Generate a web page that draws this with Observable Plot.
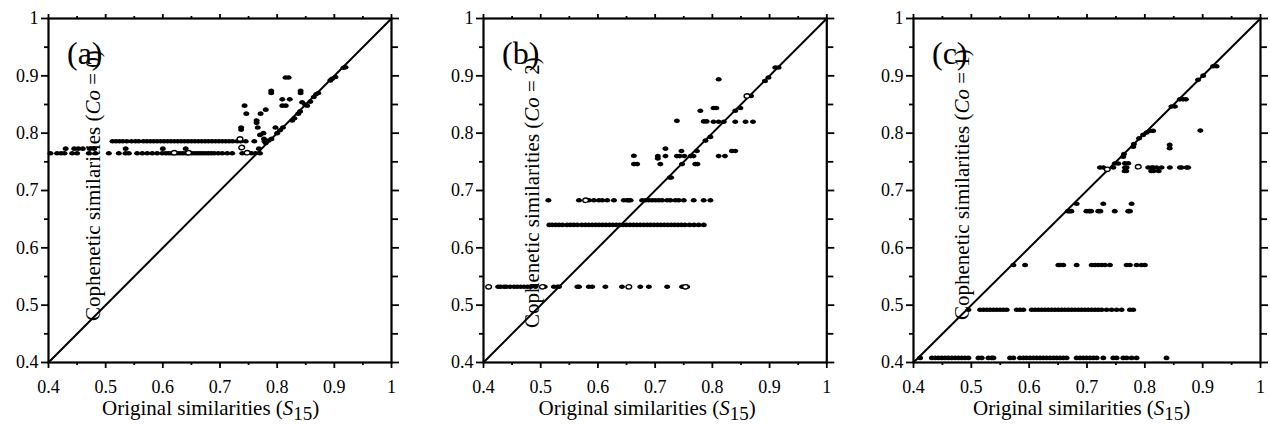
<!DOCTYPE html>
<html><head><meta charset="utf-8">
<script src="https://cdn.jsdelivr.net/npm/d3@7"></script>
<script src="https://cdn.jsdelivr.net/npm/@observablehq/plot@0.6"></script>
<style>
html,body{margin:0;padding:0;background:#fff;overflow:hidden}
#chart{position:relative;width:1270px;height:424px}
#chart svg{position:absolute;top:0;overflow:visible}
</style></head><body><div id="chart"></div>
<script>
// ---------- tick values ----------
const majorTicks = [0.4, 0.5, 0.6, 0.7, 0.8, 0.9, 1];
const minorTicks = [0.45, 0.55, 0.65, 0.75, 0.85, 0.95];
const diagonal = [0.4, 1];
const panelLabels = ["(a)", "(b)", "(c)"];
const coValues = ["0", "2", "1"];
const xTitleMain = "Original similarities (";
const yTitleMain = "Cophenetic similarities (";

// ---------- panel (a) ----------
const A_y765 = 0.765;
const A_row765 = [0.4035, 0.415, 0.422, 0.428, 0.4414, 0.45, 0.4705, 0.482, 0.5055, 0.523, 0.5347, 0.5405, 0.555, 0.564, 0.5727, 0.5814, 0.59, 0.599, 0.605, 0.61, 0.615, 0.62, 0.625, 0.63, 0.635, 0.64, 0.645, 0.65, 0.655, 0.66, 0.665, 0.67, 0.675, 0.68, 0.685, 0.69, 0.697, 0.704, 0.7126, 0.7213, 0.739, 0.755, 0.762, 0.77];
const A_y773 = 0.773;
const A_row773 = [0.43, 0.445, 0.452, 0.46, 0.472, 0.48, 0.535, 0.6, 0.64, 0.768];
const A_y786 = 0.786;
const A_row786 = [0.512, 0.518, 0.524, 0.53, 0.537, 0.545, 0.552, 0.558, 0.566, 0.572, 0.578, 0.584, 0.59, 0.596, 0.602, 0.608, 0.614, 0.62, 0.626, 0.632, 0.638, 0.644, 0.65, 0.656, 0.662, 0.668, 0.674, 0.68, 0.686, 0.692, 0.698, 0.704, 0.71, 0.716, 0.722, 0.73, 0.736, 0.745, 0.76, 0.778];
const A_scatterX = [0.8146, 0.82, 0.7896, 0.7896, 0.841, 0.841, 0.809, 0.822, 0.809, 0.815, 0.743, 0.78, 0.771, 0.746, 0.8437, 0.764, 0.764, 0.766, 0.737, 0.737, 0.797, 0.777, 0.77, 0.776, 0.78, 0.785, 0.79, 0.8, 0.805, 0.81, 0.8263, 0.83, 0.837, 0.84, 0.8525, 0.849, 0.858, 0.864, 0.868, 0.872, 0.893, 0.896, 0.902, 0.9196, 0.916];
const A_scatterY = [0.897, 0.897, 0.870, 0.874, 0.870, 0.874, 0.859, 0.859, 0.848, 0.848, 0.848, 0.841, 0.834, 0.834, 0.854, 0.822, 0.818, 0.810, 0.810, 0.806, 0.810, 0.790, 0.797, 0.800, 0.783, 0.787, 0.790, 0.800, 0.805, 0.810, 0.822, 0.826, 0.834, 0.838, 0.848, 0.850, 0.855, 0.863, 0.868, 0.870, 0.892, 0.895, 0.898, 0.915, 0.914];
const A_openX = [0.62, 0.645, 0.7476, 0.738, 0.735];
const A_openY = [0.766, 0.766, 0.766, 0.775, 0.79];

// ---------- panel (b) ----------
const B_y532 = 0.532;
const B_row532 = [0.4256, 0.43, 0.436, 0.44, 0.4465, 0.4535, 0.459, 0.465, 0.471, 0.477, 0.4826, 0.491, 0.507, 0.523, 0.529, 0.532, 0.564, 0.567, 0.584, 0.590, 0.613, 0.642, 0.674, 0.689, 0.721, 0.747, 0.750, 0.756];
const B_y640 = 0.64;
const B_row640 = [0.515, 0.52, 0.526, 0.532, 0.538, 0.546, 0.552, 0.558, 0.564, 0.572, 0.578, 0.584, 0.59, 0.596, 0.602, 0.608, 0.614, 0.62, 0.626, 0.632, 0.638, 0.644, 0.65, 0.656, 0.662, 0.668, 0.674, 0.68, 0.686, 0.692, 0.698, 0.704, 0.71, 0.716, 0.722, 0.728, 0.734, 0.74, 0.746, 0.752, 0.76, 0.768, 0.776, 0.785];
const B_y683 = 0.683;
const B_row683 = [0.5134, 0.5669, 0.5843, 0.593, 0.6017, 0.6076, 0.6163, 0.628, 0.6453, 0.6512, 0.654, 0.657, 0.6773, 0.683, 0.689, 0.6948, 0.7006, 0.7064, 0.7122, 0.721, 0.7267, 0.7355, 0.7413, 0.75, 0.7674, 0.7849, 0.7965];
const B_scatterX = [0.6628, 0.663, 0.6686, 0.7047, 0.7047, 0.709, 0.718, 0.718, 0.7256, 0.728, 0.738, 0.738, 0.743, 0.746, 0.747, 0.751, 0.762, 0.767, 0.773, 0.77, 0.774, 0.779, 0.785, 0.79, 0.788, 0.7965, 0.811, 0.802, 0.807, 0.802, 0.811, 0.82, 0.811, 0.822, 0.834, 0.84, 0.84, 0.84, 0.849, 0.858, 0.871, 0.8675, 0.892, 0.898, 0.9157, 0.91];
const B_scatterY = [0.7605, 0.746, 0.746, 0.760, 0.756, 0.746, 0.773, 0.760, 0.7227, 0.7227, 0.8215, 0.760, 0.760, 0.769, 0.746, 0.760, 0.760, 0.760, 0.769, 0.746, 0.746, 0.839, 0.8205, 0.8205, 0.787, 0.7935, 0.894, 0.844, 0.844, 0.82, 0.82, 0.82, 0.76, 0.76, 0.769, 0.769, 0.82, 0.839, 0.844, 0.82, 0.82, 0.865, 0.891, 0.897, 0.9145, 0.9145];
const B_openX = [0.409, 0.503, 0.654, 0.753, 0.5785, 0.8605];
const B_openY = [0.532, 0.532, 0.532, 0.532, 0.683, 0.865];

// ---------- panel (c) ----------
const C_y408 = 0.408;
const C_row408 = [0.4115, 0.4317, 0.4374, 0.4432, 0.4489, 0.4547, 0.4604, 0.4662, 0.472, 0.4777, 0.4835, 0.4892, 0.495, 0.5123, 0.518, 0.5295, 0.5353, 0.5382, 0.567, 0.5727, 0.5842, 0.59, 0.5957, 0.6015, 0.6073, 0.613, 0.6188, 0.6245, 0.6303, 0.636, 0.6418, 0.6476, 0.6533, 0.659, 0.6648, 0.6821, 0.6879, 0.6936, 0.6994, 0.7051, 0.7109, 0.7167, 0.7282, 0.7454, 0.7512, 0.7627, 0.7685, 0.7771, 0.7857, 0.8375];
const C_y492 = 0.492;
const C_row492 = [0.495, 0.5151, 0.5209, 0.5267, 0.5324, 0.5382, 0.5439, 0.5497, 0.5554, 0.5612, 0.5785, 0.5842, 0.59, 0.6044, 0.6101, 0.6159, 0.6216, 0.6274, 0.6332, 0.6389, 0.6447, 0.6504, 0.6562, 0.6619, 0.6677, 0.6735, 0.6792, 0.685, 0.6907, 0.6965, 0.7022, 0.708, 0.7138, 0.7195, 0.7253, 0.7339, 0.7425, 0.7512, 0.7598, 0.7742, 0.78];
const C_y570 = 0.570;
const C_row570 = [0.5727, 0.5929, 0.6504, 0.6533, 0.659, 0.6821, 0.708, 0.7138, 0.7195, 0.7253, 0.731, 0.7397, 0.7685, 0.7742, 0.7857, 0.7943, 0.8001];
const C_y664 = 0.664;
const C_row664 = [0.667, 0.670, 0.673, 0.699, 0.704, 0.707, 0.7195, 0.723, 0.748, 0.7713, 0.7742];
const C_y677 = 0.677;
const C_row677 = [0.6821, 0.7282, 0.7771];
const C_y740 = 0.740;
const C_row740 = [0.7224, 0.7282, 0.7454, 0.7656, 0.7685, 0.8059, 0.8117, 0.8146, 0.8203, 0.8289, 0.8433, 0.8606, 0.8635, 0.8721, 0.875];
const C_scatterX = [0.765, 0.768, 0.811, 0.815, 0.824, 0.78, 0.781, 0.79, 0.797, 0.803, 0.809, 0.8145, 0.843, 0.843, 0.846, 0.852, 0.8606, 0.866, 0.871, 0.892, 0.9009, 0.918, 0.924, 0.896, 0.7627, 0.748, 0.754, 0.7656, 0.7714, 0.7639];
const C_scatterY = [0.734, 0.734, 0.734, 0.734, 0.734, 0.7765, 0.781, 0.791, 0.797, 0.801, 0.804, 0.804, 0.7795, 0.7736, 0.8466, 0.8466, 0.859, 0.859, 0.859, 0.893, 0.9003, 0.9166, 0.9166, 0.8045, 0.759, 0.747, 0.747, 0.7474, 0.7474, 0.7637];
const C_openX = [0.735, 0.7886];
const C_openY = [0.737, 0.7415];

// ---------- build tables ----------
function rowsToPoints(rows) {
  return rows.flatMap(([y, xs]) => xs.map(x => ({x, y})));
}
function pairs(xs, ys) { return xs.map((x, i) => ({x, y: ys[i]})); }

const panels = [
  {
    filled: rowsToPoints([[A_y765, A_row765], [A_y773, A_row773], [A_y786, A_row786]]).concat(pairs(A_scatterX, A_scatterY)),
    open: pairs(A_openX, A_openY),
    frameLeft: 48, frameWidth: 343, yTitleDx: 52, yTitleStart: 321, xTitleDx: 54
  },
  {
    filled: rowsToPoints([[B_y532, B_row532], [B_y640, B_row640], [B_y683, B_row683]]).concat(pairs(B_scatterX, B_scatterY)),
    open: pairs(B_openX, B_openY),
    frameLeft: 482.7, frameWidth: 343.3, yTitleDx: 56, yTitleStart: 328, xTitleDx: 55.6
  },
  {
    filled: rowsToPoints([[C_y408, C_row408], [C_y492, C_row492], [C_y570, C_row570], [C_y664, C_row664], [C_y677, C_row677], [C_y740, C_row740]]).concat(pairs(C_scatterX, C_scatterY)),
    open: pairs(C_openX, C_openY),
    frameLeft: 913.3, frameWidth: 347, yTitleDx: 56, yTitleStart: 320, xTitleDx: 60
  }
];

// flattened ellipse marker, like the original's symbols
const ellipse = {
  draw(context, size) {
    const r = Math.sqrt(size / Math.PI);
    const rx = r * 1.2, ry = r * 0.92, k = 0.5523;
    context.moveTo(rx, 0);
    context.bezierCurveTo(rx, ry * k, rx * k, ry, 0, ry);
    context.bezierCurveTo(-rx * k, ry, -rx, ry * k, -rx, 0);
    context.bezierCurveTo(-rx, -ry * k, -rx * k, -ry, 0, -ry);
    context.bezierCurveTo(rx * k, -ry, rx, -ry * k, rx, 0);
    context.closePath();
  }
};

const ML = 48, MR = 12, MT = 18, MB = 62, H = 424;
const font = "Liberation Serif";
const blank = () => "";
const chart = document.getElementById("chart");

panels.forEach((p, i) => {
  const axisCommon = {label: null, stroke: "black", strokeWidth: 1.8, color: "black"};
  const svg = Plot.plot({
    width: ML + p.frameWidth + MR,
    height: H,
    marginLeft: ML, marginRight: MR, marginTop: MT, marginBottom: MB,
    x: {domain: [0.4, 1]},
    y: {domain: [0.4, 1]},
    style: {fontFamily: font, fontSize: "18px", color: "black", background: "white"},
    marks: [
      Plot.line(diagonal, {x: d => d, y: d => d, stroke: "black", strokeWidth: 2}),
      Plot.dot(p.filled, {x: "x", y: "y", r: 2.5, symbol: ellipse, fill: "black", stroke: "none"}),
      Plot.dot(p.open, {x: "x", y: "y", r: 2.4, symbol: ellipse, fill: "white", stroke: "black", strokeWidth: 1.4}),
      Plot.axisX(majorTicks, {...axisCommon, anchor: "bottom", tickSize: 6, tickPadding: 12, fontSize: 18, tickFormat: d => String(d)}),
      Plot.axisX(minorTicks, {...axisCommon, anchor: "bottom", tickSize: 3, tickFormat: blank}),
      Plot.axisX(majorTicks, {...axisCommon, anchor: "top", tickSize: 5, tickFormat: blank}),
      Plot.axisX(minorTicks, {...axisCommon, anchor: "top", tickSize: 3, tickFormat: blank}),
      Plot.axisY(majorTicks, {...axisCommon, anchor: "left", tickSize: 7, tickPadding: 3, fontSize: 18, tickFormat: d => String(d)}),
      Plot.axisY(minorTicks, {...axisCommon, anchor: "left", tickSize: 4, tickFormat: blank}),
      Plot.axisY(majorTicks, {...axisCommon, anchor: "right", tickSize: 7, tickFormat: blank}),
      Plot.axisY(minorTicks, {...axisCommon, anchor: "right", tickSize: 6, tickFormat: blank}),
      Plot.frame({stroke: "black", strokeWidth: 2.2})
    ]
  });
  svg.style.left = (p.frameLeft - ML) + "px";
  const s = d3.select(svg);

  // panel label
  s.append("text")
    .attr("x", ML + 19).attr("y", 64).attr("text-anchor", "start")
    .attr("font-family", font).attr("font-size", 32).attr("fill", "black")
    .text(panelLabels[i]);

  // x title
  const xt = s.append("text")
    .attr("x", ML + p.xTitleDx).attr("y", 415).attr("text-anchor", "start")
    .attr("font-family", font).attr("font-size", 21).attr("fill", "black");
  xt.append("tspan").text(xTitleMain);
  xt.append("tspan").attr("font-style", "italic").text("S");
  xt.append("tspan").attr("dy", 5).attr("font-size", 19).text("15");
  xt.append("tspan").attr("dy", -5).text(")");

  // y title (rotated, drawn inside the plot as in the original)
  const yt = s.append("text")
    .attr("transform", `translate(${ML + p.yTitleDx},${p.yTitleStart}) rotate(-90)`)
    .attr("text-anchor", "start")
    .attr("font-family", font).attr("font-size", 21).attr("fill", "black");
  yt.append("tspan").text(yTitleMain);
  yt.append("tspan").attr("font-style", "italic").text("Co");
  yt.append("tspan").text(" = " + coValues[i] + ")");

  chart.appendChild(svg);
});
</script></body></html>
